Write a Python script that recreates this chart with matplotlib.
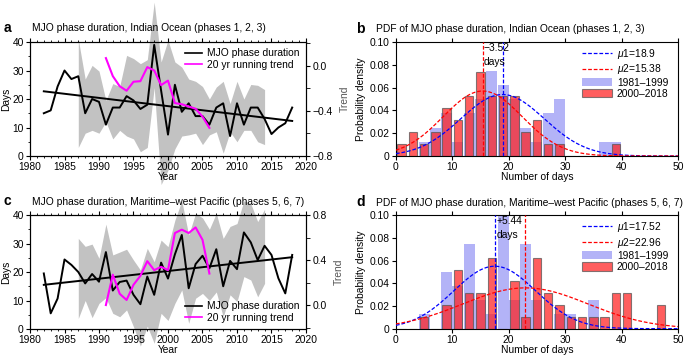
import numpy as np
from matplotlib import pyplot as plt
from matplotlib.lines import Line2D
from matplotlib.patches import Patch
from matplotlib.ticker import MultipleLocator

plt.rcParams['font.family'] = ['Liberation Sans', 'DejaVu Sans']
plt.rcParams['font.size'] = 7
plt.rcParams['mathtext.fontset'] = 'custom'
plt.rcParams['mathtext.it'] = 'Liberation Sans:italic'

# ---- data ----
years = list(range(1982, 2019))
io_days = [15, 16, 24.4, 30, 27, 28, 15, 20, 19, 11, 17, 17, 21, 19.5, 16.5, 18, 39, 23, 7.5,
           25, 15.5, 18.5, 14, 14, 11, 17, 18.5, 7, 18.5, 11, 17, 17, 13, 7.7, 10, 11.5, 17]
mc_days = [19.5, 5.5, 10.7, 24.4, 22.5, 20, 16, 19.3, 16.6, 27, 13.5, 16.5, 17, 12, 8.7, 18.4,
           12, 23.3, 17.7, 26.2, 33, 14.3, 22.8, 25.7, 21.3, 28, 15, 23.9, 21, 33.9, 30.4, 24.2,
           29.2, 26, 17.8, 12.5, 26]
io_fit = [22.7, 12.3]   # linear fit at 1982 and 2018
mc_fit = [15.5, 25.2]

run_years = list(range(1991, 2007))
io_run = [0.07, -0.09, -0.18, -0.22, -0.14, -0.135, -0.01, -0.04, -0.17, -0.13, -0.33, -0.34,
          -0.36, -0.38, -0.45, -0.55]
mc_run = [0.0, 0.27, 0.10, 0.045, 0.18, 0.26, 0.39, 0.31, 0.34, 0.31, 0.64, 0.67, 0.64, 0.69,
          0.58, 0.28]

band_years = list(range(1987, 2015))
io_upper = [41, 27, 31.8, 29.8, 19.5, 25.4, 24.4, 35.3, 34.2, 32.4, 33.8, 54, 33, 40.6, 33,
            31.2, 27, 26.2, 24.4, 20, 24.2, 26.2, 18.4, 26.2, 20, 25.1, 24.8, 23.3]
io_lower = [3, 8, 9, 8, 12, 6, 9, 7, 6, 1.5, 3, 24, -10, -5, 2.5, 7, 7.4, 8, 4, 7.4, 8.5, 1,
            8.5, 5, 9, 9, 5, 4]
mc_upper = [31.8, 29, 29.8, 24.8, 36.8, 26, 27, 28, 24.2, 20.7, 28.3, 23.6, 31.2, 28.9, 38.2,
            45, 33, 40.6, 39, 35, 40.6, 31.8, 36, 37, 45, 44, 37.7, 42]
mc_lower = [3.7, 10, 4, 9, 11, 5.5, 4.3, 6.7, 0.8, -6, 1, -5, 5.5, 3, 9, 13.7, 2, 10.8, 12.5,
            10, 13, 4.3, 12, 9.6, 18.4, 17.2, 11.3, 16]

bin_centers = list(range(1, 50, 2))
io_pdf_early = [0, 0, 0.0125, 0.025, 0.0375, 0.0125, 0.0375, 0.05, 0.075, 0.0625, 0.05, 0.025,
                0.0125, 0.0375, 0.05, 0, 0, 0, 0.0125, 0.0125, 0, 0, 0, 0, 0]
io_pdf_late = [0.0105, 0.021, 0.0105, 0.021, 0.042, 0.0315, 0.0526, 0.0737, 0.0526, 0.0526,
               0.0526, 0.021, 0.0315, 0.0105, 0.0105, 0, 0, 0, 0, 0.0105, 0, 0, 0, 0, 0]
mc_pdf_early = [0, 0, 0.0125, 0, 0.05, 0.0375, 0.075, 0.025, 0.0125, 0.1, 0.025, 0.075, 0.025,
                0, 0.0125, 0.0125, 0, 0.025, 0, 0, 0, 0, 0, 0, 0]
mc_pdf_late = [0, 0, 0.0104, 0, 0.0208, 0.052, 0.031, 0.031, 0.0625, 0, 0.0417, 0.0104, 0.0625,
               0.031, 0.0208, 0.0104, 0.0104, 0.0104, 0.0104, 0.031, 0.031, 0, 0, 0.0208, 0]

io_mu = [18.9, 15.38]
io_sigma = [7.4, 7.0]
mc_mu = [17.52, 22.96]
mc_sigma = [7.25, 11.1]

FS = 7.4


def style_ts(ax, ax2):
    ax.set_xlim(1980, 2020)
    ax.set_ylim(0, 40)
    ax.xaxis.set_major_locator(MultipleLocator(5))
    ax.xaxis.set_minor_locator(MultipleLocator(1))
    ax.yaxis.set_major_locator(MultipleLocator(10))
    ax.yaxis.set_minor_locator(MultipleLocator(5))
    ax.tick_params(which='both', top=True, direction='out', labelsize=FS, pad=1.5)
    ax.tick_params(which='major', length=3)
    ax.tick_params(which='minor', length=1.5)
    ax.set_xlabel('Year', fontsize=FS, labelpad=0)
    ax.set_ylabel('Days', fontsize=FS, labelpad=1)
    ax2.yaxis.set_major_locator(MultipleLocator(0.4))
    ax2.yaxis.set_minor_locator(MultipleLocator(0.2))
    ax2.yaxis.set_major_formatter(lambda v, p: f'{v:.1f}'.replace('-', '\u2212'))
    ax2.tick_params(which='both', direction='out', labelsize=FS, length=3, pad=1.5)
    ax2.set_ylabel('Trend', fontsize=FS, color='#555555', labelpad=5)


def ts_panel(rect, days, fit, run, upper, lower, ylim2, legend_loc):
    ax = fig.add_axes(rect)
    ax.fill_between(band_years, lower, upper, color='#c2c2c2', lw=0, clip_on=False, zorder=1)
    ax.plot(years, days, color='black', lw=1.4, zorder=3)
    ax.plot([years[0], years[-1]], fit, color='black', lw=1.4, zorder=3)
    ax2 = ax.twinx()
    ax2.plot(run_years, run, color='#ff00ff', lw=1.5)
    ax2.set_ylim(*ylim2)
    style_ts(ax, ax2)
    handles = [Line2D([], [], color='black', lw=1.2), Line2D([], [], color='#ff00ff', lw=1.2)]
    ax2.legend(handles, ['MJO phase duration', '20 yr running trend'], loc=legend_loc,
               frameon=False, fontsize=FS, handlelength=1.7, handletextpad=0.5,
               borderaxespad=0.2, labelspacing=0.15)
    return ax


def pdf_panel(rect, early, late, mu, sigma, note, note_x):
    ax = fig.add_axes(rect)
    ax.bar(bin_centers, early, width=1.95, color='#b3b3f7', lw=0, zorder=1)
    ax.bar(bin_centers, late, width=1.5, color='#ff2020', alpha=0.72, edgecolor='#555555',
           lw=0.8, zorder=2)
    x = np.linspace(0, 50, 300)
    for m, s, c in zip(mu, sigma, ['blue', 'red']):
        ax.plot(x, np.exp(-(x - m) ** 2 / (2 * s ** 2)) / (s * np.sqrt(2 * np.pi)),
                ls='--', color=c, lw=0.9, zorder=3, dashes=(3, 1.5))
        ax.axvline(m, ls='--', color=c, lw=0.9, zorder=3, dashes=(3, 1.5))
    ax.text(note_x, 0.0995, note, fontsize=FS, va='top', ha='left', zorder=4, linespacing=1.5)
    ax.set_xlim(0, 50)
    ax.set_ylim(0, 0.1)
    ax.xaxis.set_major_locator(MultipleLocator(10))
    ax.yaxis.set_major_locator(MultipleLocator(0.02))
    ax.yaxis.set_major_formatter(lambda v, p: '0' if v == 0 else f'{v:.2f}')
    ax.tick_params(top=True, direction='out', labelsize=FS, length=3, pad=1.5)
    ax.set_xlabel('Number of days', fontsize=FS, labelpad=0)
    ax.set_ylabel('Probability density', fontsize=FS, labelpad=3)
    handles = [Line2D([], [], color='blue', ls='--', lw=0.9, dashes=(3, 1.5)),
               Line2D([], [], color='red', ls='--', lw=0.9, dashes=(3, 1.5)),
               Patch(facecolor='#b3b3f7', lw=0),
               Patch(facecolor='#ff2020', alpha=0.72, edgecolor='#555555', lw=0.8)]
    labels = [rf'$\mu$1={mu[0]}', rf'$\mu$2={mu[1]}', '1981\u20131999', '2000\u20132018']
    ax.legend(handles, labels, loc='upper right', frameon=False, fontsize=FS, handlelength=2.9,
              handleheight=0.85, handletextpad=0.5, borderaxespad=0.1, labelspacing=0.12,
              bbox_to_anchor=(0.985, 1.0))
    return ax


fig = plt.figure(figsize=(6.85, 3.56), dpi=100)

ts_panel([0.0438, 0.5618, 0.4029, 0.3202], io_days, io_fit, io_run, io_upper, io_lower,
         (-0.8, 0.213), 'upper right')
ts_panel([0.0438, 0.0758, 0.4029, 0.3202], mc_days, mc_fit, mc_run, mc_upper, mc_lower,
         (-0.213, 0.8), 'lower right')
pdf_panel([0.578, 0.5618, 0.4117, 0.3202], io_pdf_early, io_pdf_late, io_mu, io_sigma,
          '\u22123.52\ndays', 15.6)
pdf_panel([0.578, 0.0767, 0.4117, 0.319], mc_pdf_early, mc_pdf_late, mc_mu, mc_sigma,
          '+5.44\ndays', 17.9)

fig.text(0.005, 0.922, 'a', fontsize=10, fontweight='bold', va='center')
fig.text(0.046, 0.921, 'MJO phase duration, Indian Ocean (phases 1, 2, 3)', fontsize=FS,
         va='center')
fig.text(0.005, 0.436, 'c', fontsize=10, fontweight='bold', va='center')
fig.text(0.046, 0.433, 'MJO phase duration, Maritime\u2013west Pacific (phases 5, 6, 7)',
         fontsize=FS, va='center')
fig.text(0.52, 0.918, 'b', fontsize=10, fontweight='bold', va='center')
fig.text(0.549, 0.918, 'PDF of MJO phase duration, Indian Ocean (phases 1, 2, 3)',
         fontsize=FS, va='center')
fig.text(0.52, 0.432, 'd', fontsize=10, fontweight='bold', va='center')
fig.text(0.549, 0.431, 'PDF of MJO phase duration, Maritime\u2013west Pacific (phases 5, 6, 7)',
         fontsize=FS, va='center')

fig.savefig('out.png', dpi=100)
